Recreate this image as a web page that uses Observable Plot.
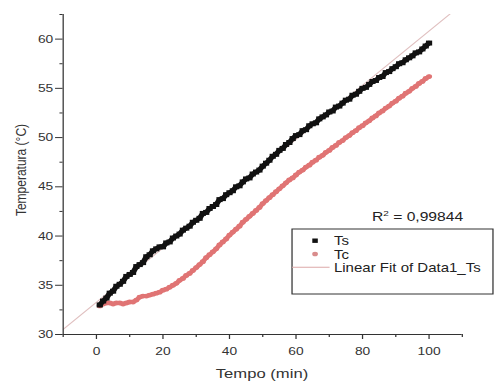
<!DOCTYPE html>
<html><head><meta charset="utf-8">
<script src="https://cdn.jsdelivr.net/npm/d3@7"></script>
<script src="https://cdn.jsdelivr.net/npm/@observablehq/plot@0.6"></script>
<style>
html,body{margin:0;padding:0;background:#fff;overflow:hidden}
#wrap{position:relative;width:402px;height:383px;transform:scaleX(1.2512);transform-origin:0 0}
</style></head><body><div id="wrap"></div>
<script>
// Time (min)
const time = [1,2,3,4,5,6,7,8,9,10,11,12,13,14,15,16,17,18,19,20,
21,22,23,24,25,26,27,28,29,30,31,32,33,34,35,36,37,38,39,40,
41,42,43,44,45,46,47,48,49,50,51,52,53,54,55,56,57,58,59,60,
61,62,63,64,65,66,67,68,69,70,71,72,73,74,75,76,77,78,79,80,
81,82,83,84,85,86,87,88,89,90,91,92,93,94,95,96,97,98,99,100];
// Ts (°C)
const ts = [33.0,33.4,33.7,34.2,34.4,34.9,35.1,35.4,35.9,36.1,36.3,36.9,37.1,37.3,37.9,38.1,38.5,38.7,38.9,38.9,
39.3,39.4,39.8,40.0,40.2,40.6,40.8,41.0,41.4,41.6,41.8,42.3,42.4,42.8,43.0,43.2,43.7,43.8,44.2,44.4,
44.6,45.0,45.1,45.5,45.8,45.9,46.3,46.5,46.7,47.1,47.4,47.7,48.1,48.3,48.7,48.9,49.3,49.5,49.9,50.2,
50.3,50.7,50.8,51.2,51.4,51.5,51.9,52.1,52.3,52.6,52.7,53.1,53.2,53.5,53.8,53.9,54.3,54.4,54.7,55.0,
55.1,55.4,55.7,55.8,56.1,56.2,56.6,56.7,57.0,57.2,57.5,57.6,57.9,58.1,58.3,58.6,58.7,59.0,59.3,59.6];
// Tc (°C)
const tc = [32.9,33.1,33.2,33.2,33.1,33.2,33.2,33.1,33.2,33.3,33.3,33.5,33.8,33.9,33.9,34.0,34.1,34.2,34.3,34.5,
34.6,34.8,35.0,35.2,35.5,35.7,36.0,36.2,36.5,36.8,37.1,37.4,37.8,38.1,38.4,38.7,39.1,39.4,39.7,40.1,
40.4,40.7,41.0,41.4,41.7,42.0,42.3,42.6,42.9,43.3,43.6,43.9,44.2,44.5,44.8,45.1,45.4,45.7,45.9,46.2,
46.5,46.7,47.0,47.2,47.5,47.7,48.0,48.2,48.5,48.7,49.0,49.2,49.5,49.7,50.0,50.2,50.5,50.7,51.0,51.2,
51.5,51.7,52.0,52.2,52.5,52.7,53.0,53.2,53.5,53.7,54.0,54.2,54.5,54.7,55.0,55.2,55.5,55.7,56.0,56.2];
// Linear fit of Ts
const fitIntercept = 33.28;
const fitSlope = 0.2754;
const fitX = [-10, 110];
const r2Text = "0,99844";
const xMajor = [0, 20, 40, 60, 80, 100];
const xMinor = [-10, 10, 30, 50, 70, 90, 110];
const yMajor = [30, 35, 40, 45, 50, 55, 60];
const yMinor = [32.5, 37.5, 42.5, 47.5, 52.5, 57.5, 62.5];
const seriesNames = ["Ts", "Tc", "Linear Fit of Data1_Ts"];
const xTitle = "Tempo (min)";
const yTitle = "Temperatura (°C)";

const colTs = "#111111", colTc = "#e07474", colFit = "#e0c0c0";

const rows = time.map((t, i) => ({t, ts: ts[i], tc: tc[i]}));
const fitRows = fitX.map(x => ({x, y: fitIntercept + fitSlope * x}));

const chart = Plot.plot({
  width: 402, height: 383,
  marginLeft: 50, marginRight: 33, marginTop: 14, marginBottom: 49,
  x: {domain: [-10, 110]},
  y: {domain: [30, 62.5]},
  style: {fontFamily: "'Liberation Sans', Arial, sans-serif", fontSize: "11px", color: "#333", background: "white"},
  marks: [
    Plot.line(fitRows, {x: "x", y: "y", stroke: colFit, strokeWidth: 1, clip: true}),
    Plot.line(rows, {x: "t", y: "tc", stroke: colTc, strokeWidth: 4}),
    Plot.dot(rows, {x: "t", y: "tc", symbol: "circle", r: 2.4, fill: colTc}),
    Plot.line(rows, {x: "t", y: "ts", stroke: colTs, strokeWidth: 4.5}),
    Plot.dot(rows, {x: "t", y: "ts", symbol: "square", r: 2.8, fill: colTs}),
    Plot.ruleX([-10], {stroke: "#333"}),
    Plot.ruleY([30], {stroke: "#333"}),
    Plot.axisY({ticks: yMajor, tickSize: 6, tickPadding: 2, label: null}),
    Plot.axisY({ticks: yMinor, tickSize: 2.5, text: null, label: null}),
    Plot.axisX({ticks: xMajor, tickSize: 5, tickPadding: 8, label: null}),
    Plot.axisX({ticks: xMinor, tickSize: 3, text: null, label: null})
  ]
});
document.getElementById("wrap").appendChild(chart);

const svg = d3.select(chart);
const font = "'Liberation Sans', Arial, sans-serif";
// axis titles
svg.append("text").attr("x", 209.4).attr("y", 378).attr("text-anchor", "middle")
  .attr("font-family", font).attr("font-size", 13.3).attr("fill", "#333").text(xTitle);
svg.append("text").attr("transform", "translate(21,170) rotate(-90)").attr("text-anchor", "middle")
  .attr("font-family", font).attr("font-size", 12).attr("fill", "#333").text(yTitle);
// R^2
const r2 = svg.append("text").attr("x", 297.3).attr("y", 221).attr("text-anchor", "start")
  .attr("font-family", font).attr("font-size", 12.5).attr("fill", "#222");
r2.append("tspan").text("R");
r2.append("tspan").attr("font-size", 8).attr("dy", -5).text("2");
r2.append("tspan").attr("dy", 5).text(" = " + r2Text);
// legend
const lg = svg.append("g").attr("transform", "translate(233.4,229)");
lg.append("rect").attr("width", 160.6).attr("height", 65).attr("fill", "white").attr("stroke", "#333");
lg.append("rect").attr("x", 16.2).attr("y", 9.5).attr("width", 4.4).attr("height", 4.4).attr("fill", colTs);
lg.append("circle").attr("cx", 18.4).attr("cy", 25).attr("r", 2.3).attr("fill", "#d98c8c");
lg.append("line").attr("x1", 0).attr("x2", 30).attr("y1", 38.3).attr("y2", 38.3).attr("stroke", "#dca8a8");
const ly = [16, 29.6, 43];
seriesNames.forEach((n, i) => {
  lg.append("text").attr("x", 33.5).attr("y", ly[i]).attr("text-anchor", "start").attr("font-family", font)
    .attr("font-size", 12).attr("fill", "#222").text(n);
});
</script></body></html>
